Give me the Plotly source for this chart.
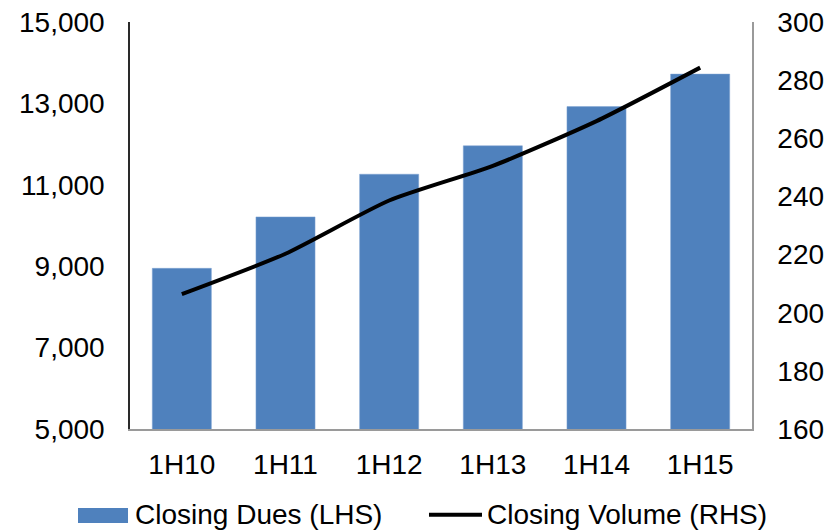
import plotly.graph_objects as go

categories = ["1H10", "1H11", "1H12", "1H13", "1H14", "1H15"]
closing_dues = [8948, 10211, 11260, 11958, 12921, 13720]
closing_volume = [206.4, 220.3, 238.6, 250.5, 265.9, 284.3]
left_ticks = [5000, 7000, 9000, 11000, 13000, 15000]
right_ticks = [160, 180, 200, 220, 240, 260, 280, 300]
series_names = ["Closing Dues (LHS)", "Closing Volume (RHS)"]

FONT = "Liberation Sans, Arial, sans-serif"
BAR_COLOR = "#4F81BD"
LINE_COLOR = "#000000"

fig = go.Figure()
fig.add_trace(go.Bar(
    x=categories, y=closing_dues, name=series_names[0],
    marker=dict(color=BAR_COLOR, line=dict(color="#7FA3D3", width=0.5)),
    yaxis="y", showlegend=False,
))
fig.add_trace(go.Scatter(
    x=categories, y=closing_volume, name=series_names[1],
    mode="lines", line=dict(color=LINE_COLOR, width=4, shape="spline", smoothing=0.6),
    yaxis="y2", showlegend=False,
))

# custom legend (wide swatch like the reference)
fig.add_shape(type="rect", xref="paper", yref="paper",
              x0=-0.0836, x1=-0.0032, y0=-0.2310, y1=-0.1941,
              fillcolor=BAR_COLOR, line=dict(width=0))
fig.add_annotation(xref="paper", yref="paper", x=0.0064, y=-0.2113,
                   xanchor="left", yanchor="middle", showarrow=False,
                   text=series_names[0], borderpad=0,
                   font=dict(family=FONT, size=28, color="#000000"))
fig.add_shape(type="line", xref="paper", yref="paper",
              x0=0.4807, x1=0.5659, y0=-0.2106, y1=-0.2106,
              line=dict(color=LINE_COLOR, width=4))
fig.add_annotation(xref="paper", yref="paper", x=0.5723, y=-0.2113,
                   xanchor="left", yanchor="middle", showarrow=False,
                   text=series_names[1], borderpad=0,
                   font=dict(family=FONT, size=28, color="#000000"))

fig.update_layout(
    width=831, height=523,
    margin=dict(l=122, r=87, t=14, b=102, autoexpand=False),
    paper_bgcolor="white", plot_bgcolor="white",
    font=dict(family=FONT, size=28, color="#000000"),
    bargap=0.43,
    showlegend=False,
    xaxis=dict(
        showgrid=False, showline=True, linecolor="#9A9A9A", linewidth=1.5,
        ticks="", ticklabelstandoff=10, zeroline=False, automargin=False,
        tickangle=0, ticklabeloverflow="allow",
    ),
    yaxis=dict(
        range=[5000, 15000], tickvals=left_ticks, tickformat=",d",
        showgrid=False, showline=True, linecolor="#2A2A2A", linewidth=1.5,
        ticks="", ticklabelstandoff=18, zeroline=False, automargin=False,
        ticklabeloverflow="allow",
    ),
    yaxis2=dict(
        range=[160, 300], tickvals=right_ticks, overlaying="y", side="right",
        showgrid=False, showline=True, linecolor="#9A9A9A", linewidth=1.5,
        ticks="", ticklabelstandoff=18, zeroline=False, automargin=False,
        ticklabeloverflow="allow",
    ),
)

fig.write_html("out.html")
